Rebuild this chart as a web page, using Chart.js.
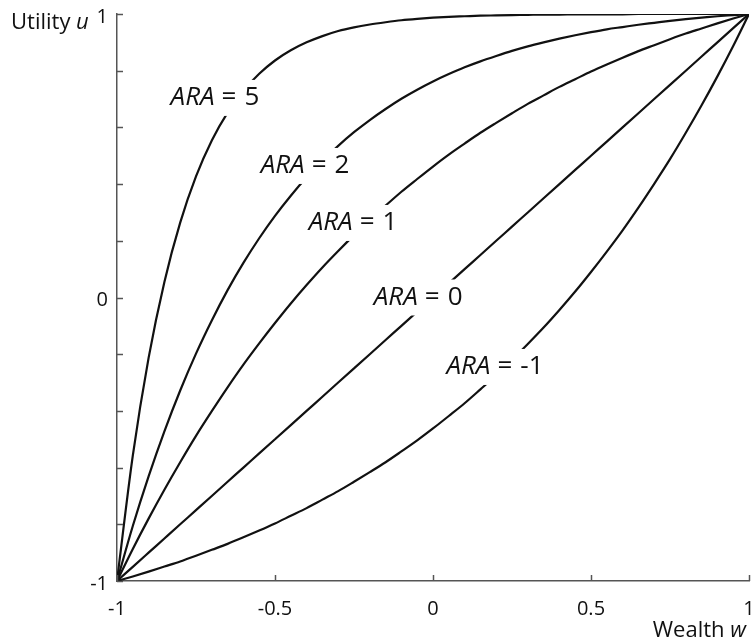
<!DOCTYPE html>
<html>
<head>
<meta charset="utf-8">
<script src="https://cdn.jsdelivr.net/npm/chart.js@4.4.1/dist/chart.umd.min.js"></script>
<style>
  html, body { margin: 0; padding: 0; background: #fff; }
  canvas { display: block; }
</style>
</head>
<body>
<canvas id="ara" width="753" height="644"></canvas>
<script>
// wealth grid (x values)
const wealth = [-1, -0.95, -0.9, -0.85, -0.8, -0.75, -0.7, -0.65, -0.6, -0.55, -0.5,
  -0.45, -0.4, -0.35, -0.3, -0.25, -0.2, -0.15, -0.1, -0.05, 0,
  0.05, 0.1, 0.15, 0.2, 0.25, 0.3, 0.35, 0.4, 0.45, 0.5,
  0.55, 0.6, 0.65, 0.7, 0.75, 0.8, 0.85, 0.9, 0.95, 1];

// utility, one list per ARA level
const ara5 = [-1, -0.558, -0.213, 0.055, 0.264, 0.427, 0.554, 0.652, 0.729, 0.789, 0.836,
  0.872, 0.900, 0.922, 0.940, 0.953, 0.963, 0.971, 0.978, 0.983, 0.987,
  0.990, 0.992, 0.994, 0.995, 0.996, 0.997, 0.998, 0.998, 0.999, 0.999,
  0.999, 0.999, 1, 1, 1, 1, 1, 1, 1, 1];
const ara2 = [-1, -0.806, -0.631, -0.472, -0.328, -0.198, -0.081, 0.026, 0.122, 0.209, 0.288,
  0.359, 0.424, 0.482, 0.535, 0.583, 0.626, 0.665, 0.701, 0.733, 0.762,
  0.788, 0.812, 0.833, 0.852, 0.870, 0.886, 0.900, 0.913, 0.925, 0.936,
  0.946, 0.954, 0.962, 0.969, 0.976, 0.982, 0.987, 0.992, 0.996, 1];
const ara1 = [-1, -0.887, -0.780, -0.678, -0.581, -0.488, -0.401, -0.317, -0.237, -0.162, -0.090,
  -0.021, 0.044, 0.106, 0.164, 0.220, 0.274, 0.324, 0.373, 0.418, 0.462,
  0.504, 0.543, 0.581, 0.616, 0.650, 0.683, 0.713, 0.743, 0.770, 0.797,
  0.822, 0.846, 0.869, 0.890, 0.911, 0.931, 0.949, 0.967, 0.984, 1];
const ara0 = [-1, -0.95, -0.9, -0.85, -0.8, -0.75, -0.7, -0.65, -0.6, -0.55, -0.5,
  -0.45, -0.4, -0.35, -0.3, -0.25, -0.2, -0.15, -0.1, -0.05, 0,
  0.05, 0.1, 0.15, 0.2, 0.25, 0.3, 0.35, 0.4, 0.45, 0.5,
  0.55, 0.6, 0.65, 0.7, 0.75, 0.8, 0.85, 0.9, 0.95, 1];
const araNeg1 = [-1, -0.984, -0.967, -0.949, -0.931, -0.911, -0.890, -0.869, -0.846, -0.822, -0.797,
  -0.770, -0.743, -0.713, -0.683, -0.650, -0.616, -0.581, -0.543, -0.504, -0.462,
  -0.418, -0.373, -0.324, -0.274, -0.220, -0.164, -0.106, -0.044, 0.021, 0.090,
  0.162, 0.237, 0.317, 0.401, 0.488, 0.581, 0.678, 0.780, 0.887, 1];

// curve labels: value shown and where it sits (data coords)
const araLevels = ['5', '2', '1', '0', '-1'];
const labelW = [-0.69, -0.405, -0.253, -0.047, 0.196];
const labelU = [0.704, 0.464, 0.263, 0, -0.245];

const FONT = '"Open Sans", "DejaVu Sans", sans-serif';
const AXIS_GREY = '#555';
const INK = '#111';

function curve(ys) {
    return {
        data: wealth.map((w, i) => ({ x: w, y: ys[i] })),
        borderColor: '#111',
        borderWidth: 2.2,
        pointRadius: 0,
        fill: false,
        cubicInterpolationMode: 'monotone'
    };
}

// inward tick marks, curve labels with white boxes, axis titles
const extras = {
    id: 'extras',
    afterDatasetsDraw(chart) {
        const ctx = chart.ctx;
        const xs = chart.scales.x;
        const ys = chart.scales.y;
        const area = chart.chartArea;

        ctx.save();
        ctx.strokeStyle = AXIS_GREY;
        ctx.lineWidth = 1.5;
        xs.ticks.forEach(t => {
            const px = Math.round(xs.getPixelForValue(t.value)) + 0.5;
            ctx.beginPath();
            ctx.moveTo(px, area.bottom);
            ctx.lineTo(px, area.bottom - 6);
            ctx.stroke();
        });
        ys.ticks.forEach(t => {
            const py = Math.round(ys.getPixelForValue(t.value)) + 0.5;
            ctx.beginPath();
            ctx.moveTo(area.left, py);
            ctx.lineTo(area.left + 6, py);
            ctx.stroke();
        });

        // ARA labels: italic name, upright "=" and value
        ctx.textBaseline = 'middle';
        ctx.textAlign = 'left';
        araLevels.forEach((lv, i) => {
            const cx = xs.getPixelForValue(labelW[i]);
            const cy = ys.getPixelForValue(labelU[i]);
            ctx.font = 'italic 26px ' + FONT;
            const hw = ctx.measureText('ARA').width;
            ctx.font = '26px ' + FONT;
            const ew = ctx.measureText('=').width;
            const nw = ctx.measureText(lv).width;
            const g1 = 7, g2 = 8;
            const w = hw + g1 + ew + g2 + nw;
            const x0 = cx - w / 2;
            ctx.fillStyle = '#fff';
            ctx.fillRect(x0 - 3, cy - 18, w + 6, 36);
            ctx.fillStyle = INK;
            ctx.font = 'italic 26px ' + FONT;
            ctx.fillText('ARA', x0, cy);
            ctx.font = '26px ' + FONT;
            ctx.fillText('=', x0 + hw + g1, cy);
            ctx.fillText(lv, x0 + hw + g1 + ew + g2, cy);
        });

        // axis titles
        ctx.textBaseline = 'alphabetic';
        ctx.fillStyle = INK;
        ctx.textAlign = 'left';
        ctx.font = '22px ' + FONT;
        ctx.fillText('Utility ', 11, 29);
        const uw = ctx.measureText('Utility ').width;
        ctx.font = 'italic 22px ' + FONT;
        ctx.fillText('u', 11 + uw, 29);

        ctx.font = 'italic 22px ' + FONT;
        const ww = ctx.measureText('w').width;
        ctx.fillText('w', 746 - ww, 637);
        ctx.font = '22px ' + FONT;
        ctx.textAlign = 'right';
        ctx.fillText('Wealth ', 746 - ww, 637);
        ctx.restore();
    }
};

const chart = new Chart(document.getElementById('ara'), {
    type: 'line',
    data: {
        datasets: [curve(ara5), curve(ara2), curve(ara1), curve(ara0), curve(araNeg1)]
    },
    options: {
        responsive: false,
        animation: false,
        devicePixelRatio: 1,
        layout: { padding: { top: 14, right: 4, left: 0, bottom: 0 } },
        plugins: {
            legend: { display: false },
            tooltip: { enabled: false }
        },
        scales: {
            x: {
                type: 'linear',
                min: -1,
                max: 1,
                grid: { display: false },
                border: { display: true, color: AXIS_GREY, width: 1.5 },
                ticks: {
                    stepSize: 0.5,
                    color: INK,
                    font: { family: FONT, size: 20 },
                    padding: 8,
                    callback: v => String(v)
                },
                afterFit(scale) {
                    scale.height = 63;
                    scale.paddingLeft = 0;
                    scale.paddingRight = 0;
                }
            },
            y: {
                type: 'linear',
                min: -1,
                max: 1,
                grid: { display: false },
                border: { display: true, color: AXIS_GREY, width: 1.5 },
                ticks: {
                    stepSize: 0.2,
                    color: INK,
                    font: { family: FONT, size: 20 },
                    padding: 1,
                    labelOffset: 3,
                    autoSkip: false,
                    callback: v => {
                        if (Math.abs(v) < 1e-9) return '0';
                        if (Math.abs(v - 1) < 1e-9) return '1';
                        if (Math.abs(v + 1) < 1e-9) return '-1';
                        return '';
                    }
                },
                afterFit(scale) {
                    scale.width = 117;
                    scale.paddingTop = 0;
                    scale.paddingBottom = 0;
                }
            }
        }
    },
    plugins: [extras]
});
</script>
</body>
</html>
